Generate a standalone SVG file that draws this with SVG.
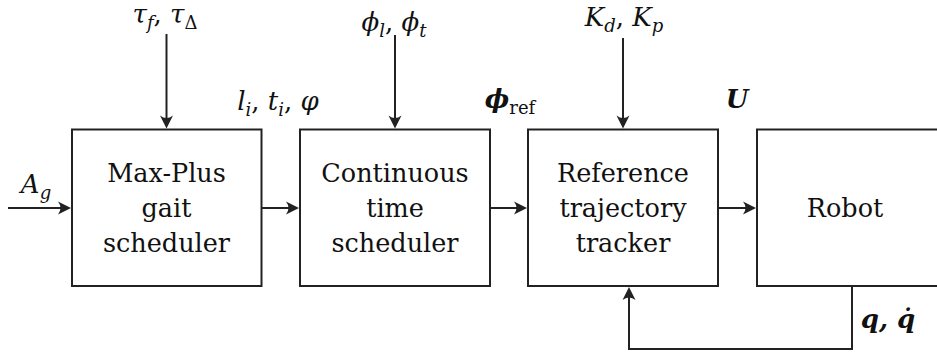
<svg xmlns="http://www.w3.org/2000/svg" width="937" height="354" viewBox="0 0 937 354">
<style>
.box{fill:#fff;stroke:#222;stroke-width:2}
.ln{fill:none;stroke:#222;stroke-width:2}
.t{font-family:'DejaVu Serif',serif;font-size:25.5px;fill:#111;text-anchor:middle}
.m{font-family:'DejaVu Serif',serif;font-size:26px;font-style:italic;fill:#111;text-anchor:middle}
.b{font-weight:bold}
.up{font-style:normal}
.s{font-size:18px}
</style>
<defs>
<marker id="ah" viewBox="-10 -7 14 14" refX="0" refY="0" markerWidth="14" markerHeight="14" markerUnits="userSpaceOnUse" orient="auto">
<path d="M4,0 L-9,-6.5 Q-4,0 -9,6.5 Z" fill="#222"/>
</marker>
</defs>
<rect width="937" height="354" fill="#fff"/>
<g id="connectors">
<line class="ln" x1="8" y1="208" x2="67" y2="208" marker-end="url(#ah)"/>
<line class="ln" x1="261" y1="208" x2="295" y2="208" marker-end="url(#ah)"/>
<line class="ln" x1="490" y1="208" x2="523" y2="208" marker-end="url(#ah)"/>
<line class="ln" x1="718" y1="208" x2="752" y2="208" marker-end="url(#ah)"/>
<line class="ln" x1="166.5" y1="34" x2="166.5" y2="124.5" marker-end="url(#ah)"/>
<line class="ln" x1="395" y1="35" x2="395" y2="124.5" marker-end="url(#ah)"/>
<line class="ln" x1="623" y1="38" x2="623" y2="124.5" marker-end="url(#ah)"/>
<path class="ln" d="M852,286 V349 H629 V291" marker-end="url(#ah)"/>
</g>
<g id="maxplus">
<rect class="box" x="72" y="129.5" width="189.5" height="156.5"/>
<text class="t" x="166.5" y="182">Max-Plus</text>
<text class="t" x="166.5" y="217">gait</text>
<text class="t" x="166.5" y="252">scheduler</text>
</g>
<g id="continuous">
<rect class="box" x="300" y="129.5" width="190" height="156.5"/>
<text class="t" x="395" y="182">Continuous</text>
<text class="t" x="395" y="217">time</text>
<text class="t" x="395" y="252">scheduler</text>
</g>
<g id="tracker">
<rect class="box" x="528" y="129.5" width="190" height="156.5"/>
<text class="t" x="623" y="182">Reference</text>
<text class="t" x="623" y="217">trajectory</text>
<text class="t" x="623" y="252">tracker</text>
</g>
<g id="robot">
<rect class="box" x="757" y="129.5" width="190" height="156.5"/>
<text class="t" x="845" y="217">Robot</text>
</g>
<g id="labels">
<text class="m" x="36" y="193">A<tspan class="s" dy="6">g</tspan></text>
<text class="m" x="165" y="23">τ<tspan class="s" dy="6">f</tspan><tspan class="up" dy="-6">, </tspan>τ<tspan class="s up" dy="6">Δ</tspan></text>
<text class="m" x="278" y="110">l<tspan class="s" dy="6">i</tspan><tspan class="up" dy="-6">, </tspan>t<tspan class="s" dy="6">i</tspan><tspan class="up" dy="-6">, </tspan>φ</text>
<text class="m" x="394" y="31">ϕ<tspan class="s" dy="6">l</tspan><tspan class="up" dy="-6">, </tspan>ϕ<tspan class="s" dy="6">t</tspan></text>
<text class="m" x="510" y="108"><tspan class="b">ϕ</tspan><tspan class="s up" dy="6">ref</tspan></text>
<text class="m" x="624" y="26">K<tspan class="s" dy="6">d</tspan><tspan class="up" dy="-6">, </tspan>K<tspan class="s" dy="6">p</tspan></text>
<text class="m b" x="737" y="108">U</text>
<text class="m b" x="888" y="328">q, q̇</text>
</g>
</svg>
